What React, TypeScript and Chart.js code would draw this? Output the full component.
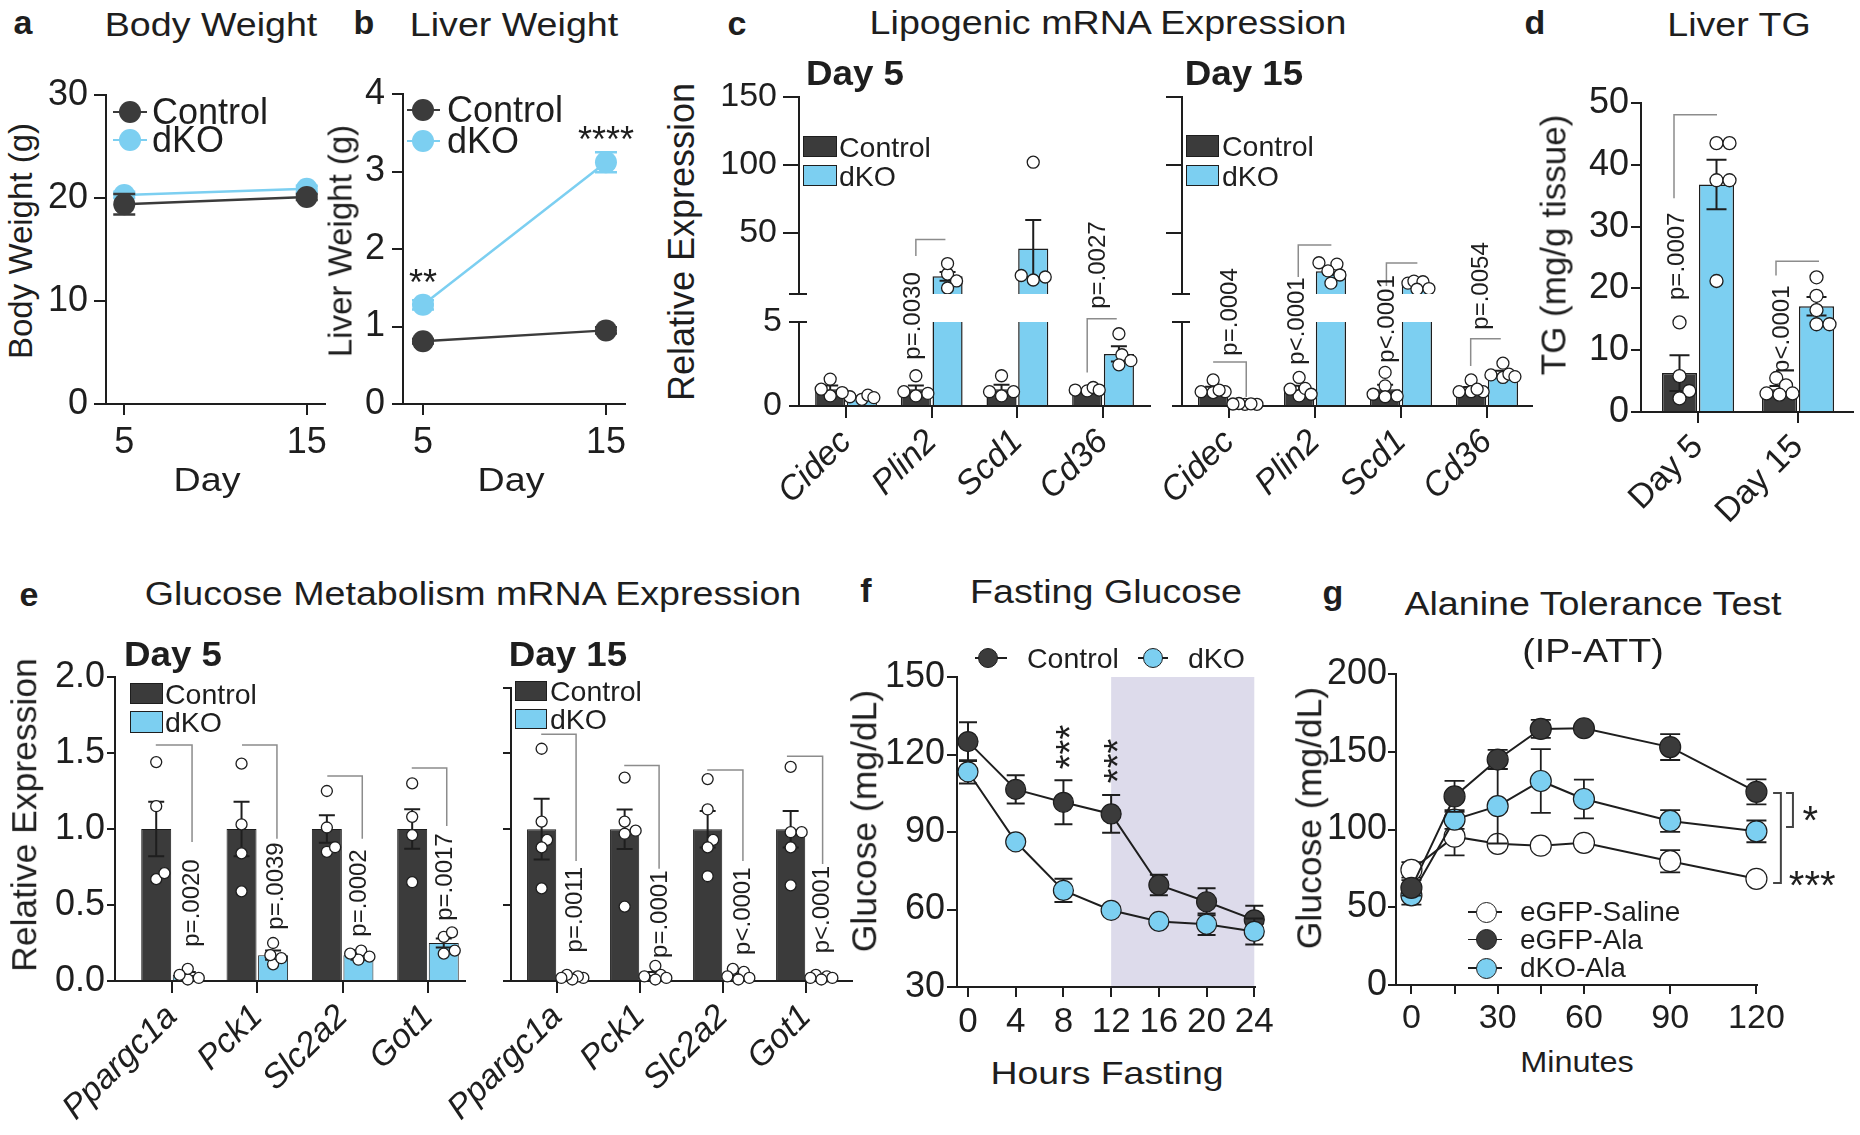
import React, { useEffect, useRef } from 'react';
import { Chart, registerables } from 'chart.js';

Chart.register(...registerables);

// ---------------- style constants ----------------
const FONT = "'Liberation Sans', Arial, Helvetica, sans-serif";
const INK = '#1e1e1e';
const DARK = '#3b3b3b';
const BLUE = '#7ccff1';
const SHADE = '#dddbeb';
const BRACKET = '#8c8c8c';
const CAT_PCT = 0.74;
const BAR_PCT = 0.95;
const BAR_OFF = CAT_PCT / 4;
Chart.defaults.font.family = FONT;

// ---------------- data ----------------
// a: body weight
const weightDays = [5, 15];
const bodyCtrl = [19.4, 20.1];
const bodyCtrlSem = [1.0, 0.3];
const bodyDko = [20.3, 20.9];
const bodyDkoSem = [0.3, 0.3];
// b: liver weight
const liverCtrl = [0.81, 0.95];
const liverCtrlSem = [0.03, 0.04];
const liverDko = [1.28, 3.12];
const liverDkoSem = [0.06, 0.13];
const liverStars = ['**', '****'];

// c: lipogenic mRNA (axis broken at 5)
const lipoBreak = 5;
const lipoGenes = ['Cidec', 'Plin2', 'Scd1', 'Cd36'];
const lipoD5Ctrl = [1.0, 1.0, 1.0, 0.95];
const lipoD5CtrlSem = [0.22, 0.22, 0.27, 0.05];
const lipoD5Dko = [0.52, 18.0, 38.5, 3.1];
const lipoD5DkoSem = [0.05, 3.2, 21.0, 0.45];
const lipoD5CtrlPts = [[0.6, 1.0, 1.6, 0.8], [0.6, 1.8, 0.85, 0.75], [0.6, 1.8, 0.85, 0.85], [0.9, 1.1, 0.95, 0.95]];
const lipoD5DkoPts = [[0.4, 0.65, 0.5, 0.55], [19.7, 27.4, 14.6, 9.4], [102, 15.3, 18.6, 17.5], [4.3, 3.05, 2.45, 2.7]];
const lipoD5P = ['', 'p=.0030', '', 'p=.0027'];

const lipoD15Ctrl = [1.0, 1.0, 1.0, 1.0];
const lipoD15CtrlSem = [0.14, 0.2, 0.27, 0.13];
const lipoD15Dko = [0.12, 21.8, 11.8, 1.95];
const lipoD15DkoSem = [0.01, 2.7, 1.3, 0.15];
const lipoD15CtrlPts = [[1.55, 0.85, 0.8, 0.95, 0.85], [0.6, 1.7, 1.0, 1.05, 0.7], [2.0, 1.2, 0.7, 0.55, 0.6], [1.55, 0.85, 0.85, 0.85, 1.0]];
const lipoD15DkoPts = [[0.1, 0.15, 0.12, 0.1, 0.13], [27, 28, 22, 19, 13], [13, 14.5, 14, 8.5, 9], [2.55, 1.85, 1.7, 1.9, 1.75]];
const lipoD15P = ['p=.0004', 'p<.0001', 'p<.0001', 'p=.0054'];

// d: liver TG
const tgGroups = ['Day 5', 'Day 15'];
const tgCtrl = [6.3, 3.7];
const tgCtrlSem = [2.9, 0.5];
const tgDko = [36.8, 17.1];
const tgDkoSem = [4.0, 1.5];
const tgCtrlPts = [[14.5, 5.8, 3.4, 2.2], [5.5, 4.3, 3.0, 3.0, 2.8]];
const tgDkoPts = [[43.5, 43.5, 37.5, 37.5, 21.2], [21.8, 18.8, 16.5, 14.2, 14.2]];
const tgP = ['p=.0007', 'p<.0001'];

// e: glucose metabolism mRNA
const glucoGenes = ['Ppargc1a', 'Pck1', 'Slc2a2', 'Got1'];
const glucoD5Ctrl = [1.0, 1.0, 1.0, 1.0];
const glucoD5CtrlSem = [0.18, 0.18, 0.09, 0.13];
const glucoD5Dko = [0.04, 0.17, 0.17, 0.25];
const glucoD5DkoSem = [0.02, 0.03, 0.03, 0.03];
const glucoD5CtrlPts = [[1.44, 1.15, 0.67, 0.71], [1.43, 1.03, 0.84, 0.59], [1.25, 1.01, 0.85, 0.88], [1.3, 1.08, 0.96, 0.65]];
const glucoD5DkoPts = [[0.01, 0.08, 0.02, 0.04], [0.25, 0.11, 0.17, 0.15], [0.2, 0.14, 0.16, 0.18], [0.29, 0.2, 0.32, 0.18]];
const glucoD5P = ['p=.0020', 'p=.0039', 'p=.0002', 'p=.0017'];

const glucoD15Ctrl = [1.0, 1.0, 1.0, 1.0];
const glucoD15CtrlSem = [0.2, 0.13, 0.12, 0.12];
const glucoD15Dko = [0.02, 0.04, 0.04, 0.02];
const glucoD15DkoSem = [0.01, 0.02, 0.01, 0.01];
const glucoD15CtrlPts = [[1.53, 0.93, 0.88, 0.61, 1.05], [1.34, 0.99, 1.05, 0.97, 0.49], [1.33, 1.13, 0.93, 0.88, 0.69], [1.41, 0.98, 0.98, 0.88, 0.63]];
const glucoD15DkoPts = [[0.02, 0.03, 0.01, 0.04, 0.02], [0.1, 0.04, 0.03, 0.01, 0.02], [0.06, 0.08, 0.02, 0.03, 0.01], [0.04, 0.03, 0.02, 0.01, 0.02]];
const glucoD15P = ['p=.0011', 'p=.0001', 'p<.0001', 'p<.0001'];

// f: fasting glucose
const fastHours = [0, 4, 8, 12, 16, 20, 24];
const fastCtrl = [125, 106.5, 101.5, 97, 69.5, 63, 56];
const fastCtrlSem = [7.5, 5.5, 8.5, 7.3, 4, 5.2, 5.5];
const fastDko = [113.3, 86.2, 67.4, 59.7, 55.4, 54.3, 51.5];
const fastDkoSem = [4.5, 1.5, 4.5, 1, 1, 4.2, 5];
const fastShade = [12, 24];
const fastStars = ['***', '***'];

// g: alanine tolerance test
const attMin = [0, 15, 30, 45, 60, 90, 120];
const attTickLabels = ['0', '', '30', '', '60', '90', '120'];
const attSaline = [74, 95.4, 90.8, 89.6, 91.4, 79.6, 68.3];
const attSalineSem = [5, 12, 2, 2, 2, 7.2, 2];
const attAla = [62.5, 121.3, 145, 164.7, 165.1, 153, 124.2];
const attAlaSem = [5, 10, 6.2, 5.8, 1.5, 8.3, 8];
const attDko = [57.7, 106.4, 115, 131.2, 119.6, 105.5, 98.8];
const attDkoSem = [6, 6, 24, 20.5, 12.5, 7, 7];
const attStars = ['*', '***'];

// ---------------- helpers ----------------
type Geo = { cl: number; ct: number; cr: number; cb: number; yW: number; xH: number; pt: number; pr: number };

function rectOf(g: Geo) {
  return { left: g.cl - g.yW, top: g.ct - g.pt, width: g.cr - g.cl + g.yW + g.pr, height: g.cb - g.ct + g.pt + g.xH };
}

function baseOptions(g: Geo) {
  return {
    responsive: false,
    maintainAspectRatio: false,
    animation: false,
    events: [],
    devicePixelRatio: 1,
    layout: { autoPadding: false, padding: { left: 0, top: g.pt, right: g.pr, bottom: 0 } },
    plugins: { legend: { display: false }, tooltip: { enabled: false }, title: { display: false } },
  };
}

const fitY = (w: number) => (s: any) => {
  s.width = w; s.paddingTop = 0; s.paddingBottom = 0; s.paddingLeft = 0; s.paddingRight = 0;
};
const fitX = (h: number) => (s: any) => {
  s.height = h; s.paddingTop = 0; s.paddingBottom = 0; s.paddingLeft = 0; s.paddingRight = 0;
};

function gridOpts(len: number) {
  return { display: true, drawOnChartArea: false, drawTicks: true, tickLength: len, tickWidth: 2, tickColor: INK, color: INK, lineWidth: 2, offset: false };
}

function yAxis(min: number, max: number, ticks: number[], w: number, o: any = {}) {
  return {
    type: 'linear', position: 'left', min, max, beginAtZero: false, offset: false,
    afterBuildTicks: (s: any) => { s.ticks = ticks.map((v) => ({ value: v })); },
    afterFit: fitY(w),
    border: { display: true, color: INK, width: 2 },
    grid: gridOpts(o.len ?? 12),
    ticks: {
      display: o.labels !== false, color: INK, padding: o.pad ?? 6, autoSkip: false,
      font: { family: FONT, size: o.size ?? 36 },
      callback: o.fmt ?? ((v: any) => String(v)),
    },
  };
}

function xAxis(min: number, max: number, ticks: number[], h: number, fmt: any, o: any = {}) {
  return {
    type: 'linear', position: 'bottom', min, max, offset: false,
    afterBuildTicks: (s: any) => { s.ticks = ticks.map((v) => ({ value: v })); },
    afterFit: fitX(h),
    border: { display: true, color: INK, width: 2 },
    grid: gridOpts(o.len ?? 12),
    ticks: {
      color: INK, padding: o.pad ?? 6, autoSkip: false, minRotation: o.rot ?? 0, maxRotation: o.rot ?? 0,
      font: { family: FONT, size: o.size ?? 36, style: o.italic ? 'italic' : 'normal' },
      callback: fmt,
    },
  };
}

function drawErrors(chart: any, index: number, when: string) {
  const ds = chart.data.datasets[index];
  if (!ds || !ds.errors || (ds.errWhen || 'after') !== when) return;
  const meta = chart.getDatasetMeta(index);
  const ys = chart.scales[meta.yAxisID];
  const ctx = chart.ctx;
  ctx.save();
  if (ds.errClip) {
    ctx.beginPath();
    ctx.rect(0, ys.top - 1, chart.width, ys.bottom - ys.top + 2);
    ctx.clip();
  }
  ctx.strokeStyle = ds.errColor || INK;
  ctx.lineWidth = ds.errWidth || 2;
  const cw = ds.capWidth || 10;
  meta.data.forEach((el: any, i: number) => {
    const e = ds.errors[i];
    const v = ds.data[i] ? ds.data[i].y : null;
    if (!e || v === null || v === undefined) return;
    const x = el.x;
    const y1 = ys.getPixelForValue(v + e);
    const y2 = ys.getPixelForValue(v - e);
    ctx.beginPath();
    ctx.moveTo(x, y1); ctx.lineTo(x, y2);
    ctx.moveTo(x - cw, y1); ctx.lineTo(x + cw, y1);
    ctx.moveTo(x - cw, y2); ctx.lineTo(x + cw, y2);
    ctx.stroke();
  });
  ctx.restore();
}

const errPlugin = {
  id: 'errbars',
  beforeDatasetDraw: (c: any, a: any) => drawErrors(c, a.index, 'before'),
  afterDatasetDraw: (c: any, a: any) => drawErrors(c, a.index, 'after'),
};

const swarmPlugin = {
  id: 'swarm',
  afterDatasetsUpdate(chart: any) {
    chart.data.datasets.forEach((ds: any, di: number) => {
      if (!ds.swarm) return;
      const meta = chart.getDatasetMeta(di);
      const r = ds.pointRadius || 5;
      const minD = r * 1.7;
      const maxOff = r * 2.4;
      const groups: Record<string, any[]> = {};
      meta.data.forEach((el: any, k: number) => {
        const key = String(ds.data[k].x);
        (groups[key] = groups[key] || []).push(el);
      });
      Object.values(groups).forEach((els: any[]) => {
        const cx = els[0].x;
        const sorted = [...els].sort((a, b) => b.y - a.y);
        const placed: { x: number; y: number }[] = [];
        sorted.forEach((el) => {
          const cands = [0];
          for (let s = 1; s * r * 0.5 <= maxOff; s++) cands.push(s * r * 0.5, -s * r * 0.5);
          let best = 0;
          let bestScore = -1;
          for (const off of cands) {
            const d = placed.reduce((m, p) => Math.min(m, Math.hypot(p.x - (cx + off), p.y - el.y)), Infinity);
            if (d >= minD) { best = off; break; }
            if (d > bestScore) { bestScore = d; best = off; }
          }
          el.x = cx + best;
          placed.push({ x: el.x, y: el.y });
        });
      });
    });
  },
};

function annPlugin(items: any[]) {
  return {
    id: 'ann',
    afterDatasetsDraw(chart: any) {
      const ctx = chart.ctx;
      const xs = chart.scales.x;
      items.forEach((it) => {
        const ys = chart.scales[it.y || 'y'];
        ctx.save();
        if (it.path) {
          ctx.strokeStyle = it.color || BRACKET;
          ctx.lineWidth = it.width || 1.5;
          ctx.beginPath();
          it.path.forEach((p: number[], k: number) => {
            const px = xs.getPixelForValue(p[0]);
            const py = ys.getPixelForValue(p[1]);
            if (k) ctx.lineTo(px, py); else ctx.moveTo(px, py);
          });
          ctx.stroke();
        } else if (it.text) {
          const size = it.size || 24;
          ctx.fillStyle = it.color || INK;
          ctx.font = `${it.bold ? 'bold ' : ''}${size}px ${FONT}`;
          ctx.textAlign = 'center';
          ctx.textBaseline = 'middle';
          ctx.translate(xs.getPixelForValue(it.at[0]), ys.getPixelForValue(it.at[1]));
          ctx.rotate(((it.rot || 0) * Math.PI) / 180);
          ctx.fillText(it.text, 0, it.star ? size * 0.25 : 0);
        }
        ctx.restore();
      });
    },
  };
}

function shadePlugin(range: number[], color: string) {
  return {
    id: 'shade',
    beforeDraw(chart: any) {
      const xs = chart.scales.x;
      const a = chart.chartArea;
      const p0 = xs.getPixelForValue(range[0]);
      const p1 = xs.getPixelForValue(range[1]);
      const ctx = chart.ctx;
      ctx.save();
      ctx.fillStyle = color;
      ctx.fillRect(p0, a.top, p1 - p0, a.bottom - a.top);
      ctx.restore();
    },
  };
}

const breakPlugin = {
  id: 'brk',
  afterDraw(chart: any) {
    const hi = chart.scales.yHigh;
    const lo = chart.scales.yLow;
    if (!hi || !lo) return;
    const x = chart.chartArea.left;
    const ctx = chart.ctx;
    ctx.save();
    ctx.strokeStyle = INK;
    ctx.lineWidth = 2;
    ctx.beginPath();
    ctx.moveTo(x - 10, hi.bottom); ctx.lineTo(x + 8, hi.bottom);
    ctx.moveTo(x - 10, lo.top); ctx.lineTo(x + 8, lo.top);
    ctx.stroke();
    ctx.restore();
  },
};

function lineDs(label: string, xs: number[], ys: number[], sem: number[], color: string, o: any) {
  return {
    type: 'line', label,
    data: xs.map((x, i) => ({ x, y: ys[i] })),
    borderColor: o.line ?? INK, borderWidth: o.lw ?? 2,
    pointRadius: o.r, pointHoverRadius: o.r,
    pointBackgroundColor: color, pointBorderColor: o.pb ?? color, pointBorderWidth: o.pbw ?? 0,
    errors: sem, errColor: o.ec ?? INK, capWidth: o.cap ?? 10, errWhen: 'before', errWidth: o.ew ?? 2,
    order: o.order ?? 0, clip: false, tension: 0, fill: false,
  };
}

function barsConfig(g: Geo, o: any) {
  const bar = (label: string, vals: number[], sem: number[], color: string) => ({
    type: 'bar', label, data: vals.map((v, i) => ({ x: i, y: v })),
    backgroundColor: color, borderColor: INK, borderWidth: o.bw,
    categoryPercentage: CAT_PCT, barPercentage: BAR_PCT,
    errors: sem, capWidth: o.cap, errWidth: 2, order: 1,
  });
  const pts = (arr: number[][], side: number) => ({
    type: 'scatter',
    data: arr.flatMap((vs, i) => vs.map((v) => ({ x: i + side * BAR_OFF, y: v }))),
    pointRadius: o.r, pointHoverRadius: o.r, pointBackgroundColor: '#ffffff', pointBorderColor: INK, pointBorderWidth: 1.3,
    swarm: true, order: 0, clip: false,
  });
  return {
    type: 'bar',
    data: {
      datasets: [
        bar('Control', o.ctrl, o.ctrlSem, DARK),
        bar('dKO', o.dko, o.dkoSem, BLUE),
        pts(o.ctrlPts, -1),
        pts(o.dkoPts, 1),
      ],
    },
    options: {
      ...baseOptions(g),
      scales: {
        x: xAxis(o.xmin, o.xmax, o.cats.map((_: any, i: number) => i), g.xH, (v: any) => o.cats[v] ?? '', o.xo),
        y: yAxis(o.ymin, o.ymax, o.yticks, g.yW, o.yo),
      },
    },
    plugins: [errPlugin, swarmPlugin, annPlugin(o.ann)],
  };
}

const C_UP = 197;
const C_GAP = 28;
const C_LOW = 84;

function lipoConfig(g: Geo, o: any) {
  // dataset clipping is relative to each dataset's own y-axis band
  const upClip = { left: false, right: false, top: 40, bottom: 0 };
  const lowClip = { left: false, right: false, top: 0, bottom: 10 };
  const bar = (vals: number[], sem: number[], color: string, axis: string, clip: any, stack: string, upper: boolean) => ({
    type: 'bar', data: vals.map((v, i) => ({ x: i, y: upper && v < lipoBreak ? null : v })), yAxisID: axis, stack,
    backgroundColor: color, borderColor: INK, borderWidth: 1.5,
    categoryPercentage: CAT_PCT, barPercentage: BAR_PCT, clip,
    errors: sem, errClip: true, capWidth: 8, errWidth: 2, order: 1,
  });
  const pts = (arr: number[][], side: number, axis: string, clip: any, upper: boolean) => ({
    type: 'scatter',
    data: arr.flatMap((vs, i) =>
      vs.filter((v) => (upper ? v >= lipoBreak : v <= lipoBreak)).map((v) => ({ x: i + side * BAR_OFF, y: v })),
    ),
    yAxisID: axis, clip,
    pointRadius: 6, pointHoverRadius: 6, pointBackgroundColor: '#ffffff', pointBorderColor: INK, pointBorderWidth: 1.3,
    swarm: true, order: 0,
  });
  return {
    type: 'bar',
    data: {
      datasets: [
        bar(o.ctrl, o.ctrlSem, DARK, 'yHigh', upClip, 'ctrl', true),
        bar(o.dko, o.dkoSem, BLUE, 'yHigh', upClip, 'dko', true),
        bar(o.ctrl, o.ctrlSem, DARK, 'yLow', lowClip, 'ctrl', false),
        bar(o.dko, o.dkoSem, BLUE, 'yLow', lowClip, 'dko', false),
        pts(o.ctrlPts, -1, 'yHigh', upClip, true),
        pts(o.dkoPts, 1, 'yHigh', upClip, true),
        pts(o.ctrlPts, -1, 'yLow', lowClip, false),
        pts(o.dkoPts, 1, 'yLow', lowClip, false),
      ],
    },
    options: {
      ...baseOptions(g),
      scales: {
        x: xAxis(o.xmin, o.xmax, lipoGenes.map((_, i) => i), g.xH, (v: any) => lipoGenes[v] ?? '', { rot: 45, italic: true, size: 34, len: 12, pad: 4 }),
        yHigh: { ...yAxis(lipoBreak, 150, [50, 100, 150], g.yW, { labels: o.showY, size: 34, len: 16, pad: 6 }), stack: 'lipo', stackWeight: C_UP, weight: 3 },
        yGap: {
          type: 'linear', position: 'left', min: 0, max: 1, stack: 'lipo', stackWeight: C_GAP, weight: 2,
          afterFit: fitY(g.yW), border: { display: false }, grid: { display: false }, ticks: { display: false },
        },
        yLow: { ...yAxis(0, lipoBreak, [0, lipoBreak], g.yW, { labels: o.showY, size: 34, len: 10, pad: 7 }), stack: 'lipo', stackWeight: C_LOW, weight: 1 },
      },
    },
    plugins: [errPlugin, swarmPlugin, breakPlugin, annPlugin(o.ann)],
  };
}

// ---------------- geometry (chart areas in page px) ----------------
const gA: Geo = { cl: 106, ct: 95, cr: 325, cb: 404, yW: 66, xH: 60, pt: 25, pr: 12 };
const gB: Geo = { cl: 403, ct: 94, cr: 625, cb: 404, yW: 66, xH: 60, pt: 25, pr: 12 };
const gC5: Geo = { cl: 799, ct: 97, cr: 1150, cb: 406, yW: 95, xH: 120, pt: 22, pr: 10 };
const gC15: Geo = { cl: 1182, ct: 97, cr: 1532, cb: 406, yW: 30, xH: 120, pt: 22, pr: 10 };
const gD: Geo = { cl: 1641, ct: 103, cr: 1853, cb: 412, yW: 70, xH: 120, pt: 25, pr: 5 };
const gE5: Geo = { cl: 115, ct: 677, cr: 465, cb: 981, yW: 80, xH: 150, pt: 25, pr: 10 };
const gE15: Geo = { cl: 511, ct: 688, cr: 852, cb: 981, yW: 80, xH: 150, pt: 25, pr: 10 };
const gF: Geo = { cl: 957, ct: 677, cr: 1255, cb: 987, yW: 85, xH: 50, pt: 25, pr: 30 };
const gG: Geo = { cl: 1396, ct: 674, cr: 1757, cb: 985, yW: 80, xH: 45, pt: 25, pr: 95 };

// ---------------- chart builders ----------------
const buildA = (g: Geo) => ({
  type: 'line',
  data: {
    datasets: [
      lineDs('Control', weightDays, bodyCtrl, bodyCtrlSem, DARK, { line: DARK, lw: 2.5, r: 11, ec: DARK, cap: 11, ew: 2.5, order: 0 }),
      lineDs('dKO', weightDays, bodyDko, bodyDkoSem, BLUE, { line: BLUE, lw: 2.5, r: 11, ec: BLUE, cap: 11, ew: 2.5, order: 1 }),
    ],
  },
  options: {
    ...baseOptions(g),
    scales: {
      x: xAxis(4, 16, weightDays, g.xH, (v: any) => String(v), { size: 36, len: 11, pad: 6 }),
      y: yAxis(0, 30, [0, 10, 20, 30], g.yW, { size: 36, len: 12, pad: 6 }),
    },
  },
  plugins: [errPlugin],
});

const buildB = (g: Geo) => ({
  type: 'line',
  data: {
    datasets: [
      lineDs('Control', weightDays, liverCtrl, liverCtrlSem, DARK, { line: DARK, lw: 2.5, r: 11, ec: DARK, cap: 11, ew: 2.5, order: 0 }),
      lineDs('dKO', weightDays, liverDko, liverDkoSem, BLUE, { line: BLUE, lw: 2.5, r: 11, ec: BLUE, cap: 11, ew: 2.5, order: 1 }),
    ],
  },
  options: {
    ...baseOptions(g),
    scales: {
      x: xAxis(3.907, 16.04, weightDays, g.xH, (v: any) => String(v), { size: 36, len: 11, pad: 6 }),
      y: yAxis(0, 4, [0, 1, 2, 3, 4], g.yW, { size: 36, len: 11, pad: 7 }),
    },
  },
  plugins: [
    errPlugin,
    annPlugin([
      { text: liverStars[0], at: [5, 1.65], size: 36, star: true },
      { text: liverStars[1], at: [15, 3.5], size: 36, star: true },
    ]),
  ],
});

const buildC5 = (g: Geo) =>
  lipoConfig(g, {
    ctrl: lipoD5Ctrl, ctrlSem: lipoD5CtrlSem, dko: lipoD5Dko, dkoSem: lipoD5DkoSem,
    ctrlPts: lipoD5CtrlPts, dkoPts: lipoD5DkoPts, showY: true, xmin: -0.549, xmax: 3.548,
    ann: [
      { path: [[0.815, 33], [0.815, 45.2], [1.16, 45.2]], y: 'yHigh' },
      { text: lipoD5P[1], at: [0.79, 5.36], y: 'yLow', rot: -90 },
      { path: [[2.815, 2.0], [2.815, 5.2], [3.16, 5.2]], y: 'yLow' },
      { text: lipoD5P[3], at: [2.94, 26.3], y: 'yHigh', rot: -90 },
    ],
  });

const buildC15 = (g: Geo) =>
  lipoConfig(g, {
    ctrl: lipoD15Ctrl, ctrlSem: lipoD15CtrlSem, dko: lipoD15Dko, dkoSem: lipoD15DkoSem,
    ctrlPts: lipoD15CtrlPts, dkoPts: lipoD15DkoPts, showY: false, xmin: -0.547, xmax: 3.523,
    ann: [
      { path: [[-0.185, 2.62], [0.2, 2.62], [0.2, 0.54]], y: 'yLow' },
      { text: lipoD15P[0], at: [0.01, 5.6], y: 'yLow', rot: -90 },
      { path: [[0.805, 17.5], [0.805, 41.1], [1.19, 41.1]], y: 'yHigh' },
      { text: lipoD15P[1], at: [0.8, 5.06], y: 'yLow', rot: -90 },
      { path: [[1.83, 10.9], [1.83, 27.8], [2.19, 27.8]], y: 'yHigh' },
      { text: lipoD15P[2], at: [1.84, 5.18], y: 'yLow', rot: -90 },
      { path: [[2.81, 2.38], [2.81, 4.0], [3.16, 4.0]], y: 'yLow' },
      { text: lipoD15P[3], at: [2.94, 10.9], y: 'yHigh', rot: -90 },
    ],
  });

const buildD = (g: Geo) =>
  barsConfig(g, {
    cats: tgGroups, ctrl: tgCtrl, ctrlSem: tgCtrlSem, dko: tgDko, dkoSem: tgDkoSem,
    ctrlPts: tgCtrlPts, dkoPts: tgDkoPts, bw: 1.5, cap: 10, r: 6.5,
    xmin: -0.57, xmax: 1.55, xo: { rot: 45, size: 34, len: 11, pad: 4 },
    ymin: 0, ymax: 50, yticks: [0, 10, 20, 30, 40, 50], yo: { size: 36, len: 10, pad: 2 },
    ann: [
      { path: [[-0.24, 34.6], [-0.24, 48.1], [0.19, 48.1]] },
      { text: tgP[0], at: [-0.21, 25.2], rot: -90 },
      { path: [[0.78, 22.1], [0.78, 24.4], [1.21, 24.4]] },
      { text: tgP[1], at: [0.84, 13.4], rot: -90 },
    ],
  });

const buildE5 = (g: Geo) =>
  barsConfig(g, {
    cats: glucoGenes, ctrl: glucoD5Ctrl, ctrlSem: glucoD5CtrlSem, dko: glucoD5Dko, dkoSem: glucoD5DkoSem,
    ctrlPts: glucoD5CtrlPts, dkoPts: glucoD5DkoPts, bw: 1, cap: 8, r: 5.5,
    xmin: -0.668, xmax: 3.434, xo: { rot: 45, italic: true, size: 34, len: 12, pad: 4 },
    ymin: 0, ymax: 2, yticks: [0, 0.5, 1, 1.5, 2], yo: { size: 36, len: 8, pad: 2, fmt: (v: any) => Number(v).toFixed(1) },
    ann: [
      { path: [[-0.19, 1.553], [0.235, 1.553], [0.235, 0.914]] },
      { text: glucoD5P[0], at: [0.235, 0.513], rot: -90 },
      { path: [[0.82, 1.553], [1.23, 1.553], [1.23, 0.936]] },
      { text: glucoD5P[1], at: [1.22, 0.625], rot: -90 },
      { path: [[1.82, 1.349], [2.23, 1.349], [2.23, 0.936]] },
      { text: glucoD5P[2], at: [2.2, 0.579], rot: -90 },
      { path: [[2.81, 1.401], [3.22, 1.401], [3.22, 1.02]] },
      { text: glucoD5P[3], at: [3.2, 0.684], rot: -90 },
    ],
  });

const buildE15 = (g: Geo) =>
  barsConfig(g, {
    cats: glucoGenes, ctrl: glucoD15Ctrl, ctrlSem: glucoD15CtrlSem, dko: glucoD15Dko, dkoSem: glucoD15DkoSem,
    ctrlPts: glucoD15CtrlPts, dkoPts: glucoD15DkoPts, bw: 1, cap: 8, r: 5.5,
    xmin: -0.554, xmax: 3.554, xo: { rot: 45, italic: true, size: 34, len: 12, pad: 4 },
    ymin: 0, ymax: 1.93, yticks: [0, 0.5, 1, 1.5, 1.93], yo: { labels: false, size: 36, len: 8, pad: 2 },
    ann: [
      { path: [[-0.19, 1.625], [0.23, 1.625], [0.23, 0.79]] },
      { text: glucoD15P[0], at: [0.22, 0.47], rot: -90 },
      { path: [[0.81, 1.42], [1.23, 1.42], [1.23, 0.74]] },
      { text: glucoD15P[1], at: [1.25, 0.44], rot: -90 },
      { path: [[1.81, 1.39], [2.24, 1.39], [2.24, 0.79]] },
      { text: glucoD15P[2], at: [2.24, 0.46], rot: -90 },
      { path: [[2.77, 1.48], [3.2, 1.48], [3.2, 0.77]] },
      { text: glucoD15P[3], at: [3.2, 0.47], rot: -90 },
    ],
  });

const buildF = (g: Geo) => ({
  type: 'line',
  data: {
    datasets: [
      lineDs('Control', fastHours, fastCtrl, fastCtrlSem, DARK, { line: INK, lw: 2, r: 10, pb: INK, pbw: 1.2, ec: INK, cap: 9, ew: 2, order: 1 }),
      lineDs('dKO', fastHours, fastDko, fastDkoSem, BLUE, { line: INK, lw: 2, r: 10, pb: INK, pbw: 1.2, ec: INK, cap: 9, ew: 2, order: 0 }),
    ],
  },
  options: {
    ...baseOptions(g),
    scales: {
      x: xAxis(-0.922, 24.06, fastHours, g.xH, (v: any) => String(v), { size: 35, len: 10, pad: 4 }),
      y: yAxis(30, 150, [30, 60, 90, 120, 150], g.yW, { size: 36, len: 10, pad: 2 }),
    },
  },
  plugins: [
    shadePlugin(fastShade, SHADE),
    errPlugin,
    annPlugin([
      { text: fastStars[0], at: [8, 122.9], size: 38, rot: -90, star: true },
      { text: fastStars[1], at: [12, 117.5], size: 38, rot: -90, star: true },
    ]),
  ],
});

const buildG = (g: Geo) => ({
  type: 'line',
  data: {
    datasets: [
      lineDs('eGFP-Saline', attMin, attSaline, attSalineSem, '#ffffff', { line: INK, lw: 2, r: 10.5, pb: INK, pbw: 1.2, ec: INK, cap: 10, ew: 1.8, order: 2 }),
      lineDs('dKO-Ala', attMin, attDko, attDkoSem, BLUE, { line: INK, lw: 2, r: 10.5, pb: INK, pbw: 1.2, ec: INK, cap: 10, ew: 1.8, order: 1 }),
      lineDs('eGFP-Ala', attMin, attAla, attAlaSem, DARK, { line: INK, lw: 2, r: 10.5, pb: INK, pbw: 1.2, ec: INK, cap: 10, ew: 1.8, order: 0 }),
    ],
  },
  options: {
    ...baseOptions(g),
    scales: {
      x: xAxis(-5.36, 120.2, attMin, g.xH, (_v: any, i: number) => attTickLabels[i] ?? '', { size: 34, len: 9, pad: 4 }),
      y: yAxis(0, 200, [0, 50, 100, 150, 200], g.yW, { size: 36, len: 8, pad: 1 }),
    },
  },
  plugins: [
    errPlugin,
    annPlugin([
      { path: [[130.3, 123.4], [132.7, 123.4], [132.7, 101.6], [130.3, 101.6]], color: '#444', width: 2 },
      { text: attStars[0], at: [138.7, 110.6], size: 40, star: true },
      { path: [[125.8, 123.4], [128.5, 123.4], [128.5, 65.6], [125.8, 65.6]], color: '#444', width: 2 },
      { text: attStars[1], at: [139.4, 68.8], size: 40, star: true },
    ]),
  ],
});

// ---------------- React components ----------------
function ChartCanvas({ geo, build }: { geo: Geo; build: (g: Geo) => any }) {
  const ref = useRef<HTMLCanvasElement | null>(null);
  const r = rectOf(geo);
  useEffect(() => {
    if (!ref.current) return;
    const chart = new Chart(ref.current, build(geo) as any);
    return () => chart.destroy();
  }, []);
  return (
    <canvas
      ref={ref}
      width={r.width}
      height={r.height}
      style={{ position: 'absolute', left: r.left, top: r.top, width: r.width, height: r.height, display: 'block' }}
    />
  );
}

function Txt({ x, y, s, size, bold = false, rot = 0, sx = 1, left = false }: any) {
  const transform = left ? `translate(0,-50%) scaleX(${sx})` : `translate(-50%,-50%) rotate(${rot}deg) scaleX(${sx})`;
  return (
    <div
      style={{
        position: 'absolute', left: x, top: y, transform, transformOrigin: left ? 'left center' : 'center center',
        fontFamily: FONT, fontSize: size, fontWeight: bold ? 700 : 400, lineHeight: 1, whiteSpace: 'nowrap', color: INK,
      }}
    >
      {s}
    </div>
  );
}

function Dot({ x, y, r, fill, stroke, sw = 0 }: any) {
  return (
    <div
      style={{
        position: 'absolute', left: x - r, top: y - r, width: 2 * r, height: 2 * r, borderRadius: '50%',
        background: fill, border: sw ? `${sw}px solid ${stroke}` : 'none', boxSizing: 'border-box',
      }}
    />
  );
}

function HLine({ x1, x2, y, color, w }: any) {
  return <div style={{ position: 'absolute', left: x1, top: y - w / 2, width: x2 - x1, height: w, background: color }} />;
}

function Swatch({ x1, y1, x2, y2, fill }: any) {
  return (
    <div style={{ position: 'absolute', left: x1, top: y1, width: x2 - x1, height: y2 - y1, background: fill, border: `1.5px solid ${INK}`, boxSizing: 'border-box' }} />
  );
}

const TITLE = 33;
const SX = 1.14;

export default function App() {
  return (
    <div style={{ position: 'fixed', left: 0, top: 0, width: 1860, height: 1135, background: '#ffffff', overflow: 'hidden' }}>
      <ChartCanvas geo={gA} build={buildA} />
      <ChartCanvas geo={gB} build={buildB} />
      <ChartCanvas geo={gC5} build={buildC5} />
      <ChartCanvas geo={gC15} build={buildC15} />
      <ChartCanvas geo={gD} build={buildD} />
      <ChartCanvas geo={gE5} build={buildE5} />
      <ChartCanvas geo={gE15} build={buildE15} />
      <ChartCanvas geo={gF} build={buildF} />
      <ChartCanvas geo={gG} build={buildG} />

      {/* panel letters */}
      <Txt x={23} y={22} s="a" size={34} bold />
      <Txt x={364} y={22} s="b" size={34} bold />
      <Txt x={737} y={23} s="c" size={34} bold />
      <Txt x={1535} y={22} s="d" size={34} bold />
      <Txt x={29} y={594} s="e" size={34} bold />
      <Txt x={866} y={590} s="f" size={34} bold />
      <Txt x={1333} y={592} s="g" size={34} bold />

      {/* titles */}
      <Txt x={211} y={24} s="Body Weight" size={TITLE} sx={SX} />
      <Txt x={514} y={24} s="Liver Weight" size={TITLE} sx={SX} />
      <Txt x={1108} y={22} s="Lipogenic mRNA Expression" size={TITLE} sx={SX} />
      <Txt x={1739} y={24} s="Liver TG" size={TITLE} sx={SX} />
      <Txt x={473} y={593} s="Glucose Metabolism mRNA Expression" size={TITLE} sx={SX} />
      <Txt x={1106} y={591} s="Fasting Glucose" size={TITLE} sx={SX} />
      <Txt x={1593} y={603} s="Alanine Tolerance Test" size={TITLE} sx={SX} />
      <Txt x={1593} y={650} s="(IP-ATT)" size={TITLE} sx={SX} />

      {/* sub headers */}
      <Txt x={855} y={72} s="Day 5" size={35} bold sx={1.05} />
      <Txt x={1244} y={72} s="Day 15" size={35} bold sx={1.05} />
      <Txt x={173} y={653} s="Day 5" size={35} bold sx={1.05} />
      <Txt x={568} y={653} s="Day 15" size={35} bold sx={1.05} />

      {/* axis titles */}
      <Txt x={20} y={241} s="Body Weight (g)" size={33} rot={-90} />
      <Txt x={340} y={241} s="Liver Weight (g)" size={33} rot={-90} />
      <Txt x={682} y={242} s="Relative Expression" size={36} rot={-90} />
      <Txt x={1553} y={245} s="TG (mg/g tissue)" size={35} rot={-90} />
      <Txt x={25} y={815} s="Relative Expression" size={35.5} rot={-90} />
      <Txt x={865} y={821} s="Glucose (mg/dL)" size={35.5} rot={-90} />
      <Txt x={1310} y={818} s="Glucose (mg/dL)" size={35.5} rot={-90} />
      <Txt x={207} y={479} s="Day" size={33} sx={SX} />
      <Txt x={511} y={479} s="Day" size={33} sx={SX} />
      <Txt x={1107} y={1073} s="Hours Fasting" size={32} sx={1.17} />
      <Txt x={1577} y={1062} s="Minutes" size={29} sx={1.12} />

      {/* legend a */}
      <HLine x1={113} x2={147} y={112} color={DARK} w={2.5} />
      <Dot x={130} y={112} r={11} fill={DARK} />
      <Txt x={152} y={112} s="Control" size={36} left />
      <HLine x1={113} x2={147} y={140} color={BLUE} w={2.5} />
      <Dot x={130} y={140} r={11} fill={BLUE} />
      <Txt x={152} y={140} s="dKO" size={36} left />

      {/* legend b */}
      <HLine x1={407} x2={440} y={110} color={DARK} w={2.5} />
      <Dot x={423} y={110} r={11} fill={DARK} />
      <Txt x={447} y={110} s="Control" size={36} left />
      <HLine x1={407} x2={440} y={141} color={BLUE} w={2.5} />
      <Dot x={423} y={141} r={11} fill={BLUE} />
      <Txt x={447} y={141} s="dKO" size={36} left />

      {/* legend c */}
      <Swatch x1={803} y1={136} x2={837} y2={157} fill={DARK} />
      <Swatch x1={803} y1={165} x2={837} y2={186} fill={BLUE} />
      <Txt x={839} y={146.5} s="Control" size={28.5} left />
      <Txt x={839} y={175.5} s="dKO" size={28.5} left />
      <Swatch x1={1186} y1={135} x2={1219} y2={157} fill={DARK} />
      <Swatch x1={1186} y1={165} x2={1219} y2={186} fill={BLUE} />
      <Txt x={1222} y={146} s="Control" size={28.5} left />
      <Txt x={1222} y={175.5} s="dKO" size={28.5} left />

      {/* legend e */}
      <Swatch x1={130} y1={683} x2={163} y2={704} fill={DARK} />
      <Swatch x1={130} y1={711} x2={163} y2={733} fill={BLUE} />
      <Txt x={165} y={693.5} s="Control" size={28.5} left />
      <Txt x={165} y={722} s="dKO" size={28.5} left />
      <Swatch x1={515} y1={681} x2={547} y2={701} fill={DARK} />
      <Swatch x1={515} y1={708.5} x2={547} y2={729} fill={BLUE} />
      <Txt x={550} y={691} s="Control" size={28.5} left />
      <Txt x={550} y={719} s="dKO" size={28.5} left />

      {/* legend f */}
      <HLine x1={975} x2={1007} y={658} color={INK} w={1.5} />
      <Dot x={988} y={658} r={10} fill={DARK} stroke={INK} sw={1.2} />
      <Txt x={1027} y={658} s="Control" size={28.5} left />
      <HLine x1={1138} x2={1168} y={658} color={INK} w={1.5} />
      <Dot x={1153} y={658} r={10} fill={BLUE} stroke={INK} sw={1.2} />
      <Txt x={1188} y={658} s="dKO" size={28.5} left />

      {/* legend g */}
      <HLine x1={1468} x2={1502} y={912} color={INK} w={1.5} />
      <Dot x={1486} y={912} r={10.5} fill="#ffffff" stroke={INK} sw={1.2} />
      <Txt x={1520} y={912} s="eGFP-Saline" size={28} left />
      <HLine x1={1468} x2={1502} y={939.5} color={INK} w={1.5} />
      <Dot x={1486} y={939.5} r={10.5} fill={DARK} stroke={INK} sw={1.2} />
      <Txt x={1520} y={939.5} s="eGFP-Ala" size={28} left />
      <HLine x1={1468} x2={1502} y={968} color={INK} w={1.5} />
      <Dot x={1486} y={968} r={10.5} fill={BLUE} stroke={INK} sw={1.2} />
      <Txt x={1520} y={968} s="dKO-Ala" size={28} left />
    </div>
  );
}
